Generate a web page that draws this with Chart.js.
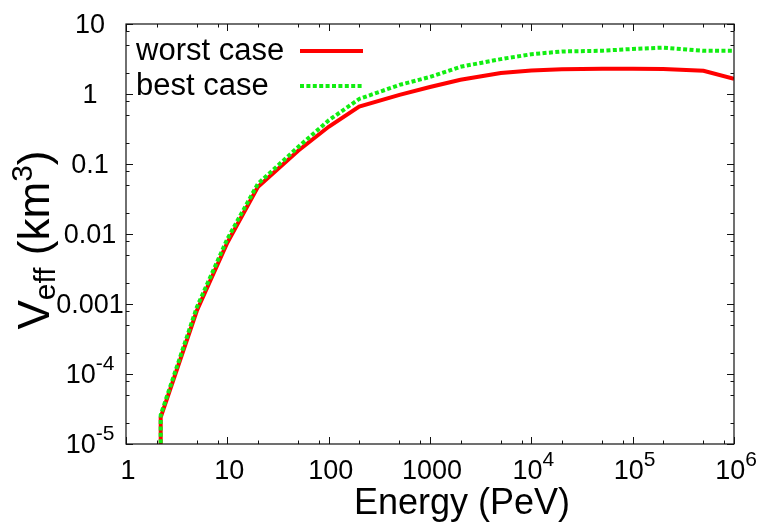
<!DOCTYPE html>
<html>
<head>
<meta charset="utf-8">
<script src="https://cdn.jsdelivr.net/npm/chart.js@4.4.1/dist/chart.umd.min.js"></script>
<style>
  html, body { margin: 0; padding: 0; background: #fff; }
  #wrap { width: 758px; height: 522px; }
</style>
</head>
<body>
<div id="wrap"><canvas id="veff"></canvas></div>
<script>
// energy in PeV, effective volume in km^3
const energies  = [2.2, 2.2, 5, 10, 20, 50, 100, 200, 500, 1000, 2000, 5000, 1e4, 2e4, 5e4, 1e5, 2e5, 5e5, 1e6];
const worstCase = [1e-7, 2.4e-5, 8e-4, 7.5e-3, 0.047, 0.155, 0.34, 0.66, 0.97, 1.26, 1.6, 2.0, 2.17, 2.25, 2.3, 2.3, 2.28, 2.15, 1.65];
const bestCase  = [1e-7, 2.6e-5, 9e-4, 8.5e-3, 0.052, 0.175, 0.42, 0.85, 1.35, 1.75, 2.45, 3.15, 3.7, 4.05, 4.15, 4.4, 4.6, 4.15, 4.15];
const seriesNames = ["worst case", "best case"];
const xTickExp = [0, 1, 2, 3, 4, 5, 6];
const yTickExp = [-5, -4, -3, -2, -1, 0, 1];
const minorMult = [2, 5, 8];

const FONT = '"Liberation Sans", Arial, sans-serif';
const RED = "#ff0000";
const GREEN = "#11ee11";

function pts(ys) {
  return energies.map((e, i) => ({ x: e, y: ys[i] }));
}

// draw text made of pieces (for sub/superscripts)
function richWidth(ctx, parts) {
  let w = 0;
  for (const p of parts) {
    ctx.font = p.size + "px " + FONT;
    w += ctx.measureText(p.t).width;
  }
  return w;
}
function drawRich(ctx, parts, x, y, align) {
  let w = richWidth(ctx, parts);
  let cx = align === "center" ? x - w / 2 : (align === "right" ? x - w : x);
  ctx.textAlign = "left";
  ctx.textBaseline = "alphabetic";
  for (const p of parts) {
    ctx.font = p.size + "px " + FONT;
    ctx.fillText(p.t, cx, y + (p.dy || 0));
    cx += ctx.measureText(p.t).width;
  }
}

function xLabel(n) {
  if (n <= 3) return [{ t: String(Math.pow(10, n)), size: 27 }];
  return [{ t: "10", size: 27 }, { t: String(n), size: 21, dy: -13 }];
}
function yLabel(n) {
  if (n >= -3) {
    let s = n >= 0 ? String(Math.pow(10, n)) : "0." + "0".repeat(-n - 1) + "1";
    return [{ t: s, size: 27 }];
  }
  return [{ t: "10", size: 27 }, { t: String(n), size: 21, dy: -13 }];
}

const framePlugin = {
  id: "frame",
  afterDatasetsDraw(chart) {
    const ctx = chart.ctx;
    const a = chart.chartArea;
    const xs = chart.scales.x, ys = chart.scales.y;
    ctx.save();
    ctx.strokeStyle = "#111";
    ctx.lineWidth = 1.2;
    ctx.strokeRect(a.left, a.top, a.right - a.left, a.bottom - a.top);

    ctx.lineWidth = 1;
    ctx.beginPath();
    // x ticks, bottom and top
    xTickExp.forEach(n => {
      const d = Math.pow(10, n);
      const list = [[d, 7]];
      if (n < 6) minorMult.forEach(m => list.push([d * m, 3.5]));
      list.forEach(([v, len]) => {
        const px = Math.round(xs.getPixelForValue(v)) + 0.5;
        ctx.moveTo(px, a.bottom); ctx.lineTo(px, a.bottom - len);
        ctx.moveTo(px, a.top); ctx.lineTo(px, a.top + len);
      });
    });
    // y ticks, left and right
    yTickExp.forEach(n => {
      const d = Math.pow(10, n);
      const list = [[d, 7]];
      if (n < 1) minorMult.forEach(m => list.push([d * m, 3.5]));
      list.forEach(([v, len]) => {
        const py = Math.round(ys.getPixelForValue(v)) + 0.5;
        ctx.moveTo(a.left, py); ctx.lineTo(a.left + len, py);
        ctx.moveTo(a.right, py); ctx.lineTo(a.right - len, py);
      });
    });
    ctx.stroke();

    ctx.fillStyle = "#000";
    xTickExp.forEach(n => {
      drawRich(ctx, xLabel(n), xs.getPixelForValue(Math.pow(10, n)) + 2, a.bottom + 35, "center");
    });
    yTickExp.forEach(n => {
      drawRich(ctx, yLabel(n), 90, ys.getPixelForValue(Math.pow(10, n)) + 9, "center");
    });

    // axis titles
    drawRich(ctx, [{ t: "Energy (PeV)", size: 36 }], 462, 514, "center");
    ctx.save();
    ctx.translate(49, (a.top + a.bottom) / 2 + 6);
    ctx.rotate(-Math.PI / 2);
    drawRich(ctx, [
      { t: "V", size: 44 },
      { t: "eff", size: 30, dy: 6 },
      { t: " (km", size: 44 },
      { t: "3", size: 30, dy: -17 },
      { t: ")", size: 44 }
    ], 0, 0, "center");
    ctx.restore();

    // key
    const keyRows = [
      { name: seriesNames[0], color: RED, dash: [], y: 60 },
      { name: seriesNames[1], color: GREEN, dash: [4, 2.4], y: 95 }
    ];
    keyRows.forEach(r => {
      ctx.fillStyle = "#000";
      drawRich(ctx, [{ t: r.name, size: 31 }], 136, r.y, "left");
      ctx.strokeStyle = r.color;
      ctx.lineWidth = 4;
      ctx.setLineDash(r.dash);
      ctx.beginPath();
      ctx.moveTo(300, r.y - 9);
      ctx.lineTo(363, r.y - 9);
      ctx.stroke();
      ctx.setLineDash([]);
    });
    ctx.restore();
  }
};

new Chart(document.getElementById("veff"), {
  type: "line",
  plugins: [framePlugin],
  data: {
    datasets: [
      {
        label: seriesNames[1],
        data: pts(bestCase),
        borderColor: GREEN,
        borderWidth: 4,
        borderDash: [4, 2.4],
        pointRadius: 0,
        fill: false,
        tension: 0
      },
      {
        label: seriesNames[0],
        data: pts(worstCase),
        borderColor: RED,
        borderWidth: 4,
        pointRadius: 0,
        fill: false,
        tension: 0
      }
    ]
  },
  options: {
    responsive: true,
    maintainAspectRatio: false,
    animation: false,
    layout: { padding: { top: 24, right: 24, left: 0, bottom: 0 } },
    plugins: { legend: { display: false }, tooltip: { enabled: false } },
    scales: {
      x: {
        type: "logarithmic",
        min: 1, max: 1e6,
        grid: { display: false },
        border: { display: false },
        ticks: { display: false },
        afterFit: s => { s.height = 78; }
      },
      y: {
        type: "logarithmic",
        min: 1e-5, max: 10,
        grid: { display: false },
        border: { display: false },
        ticks: { display: false },
        afterFit: s => { s.width = 126; }
      }
    }
  }
});
</script>
</body>
</html>
